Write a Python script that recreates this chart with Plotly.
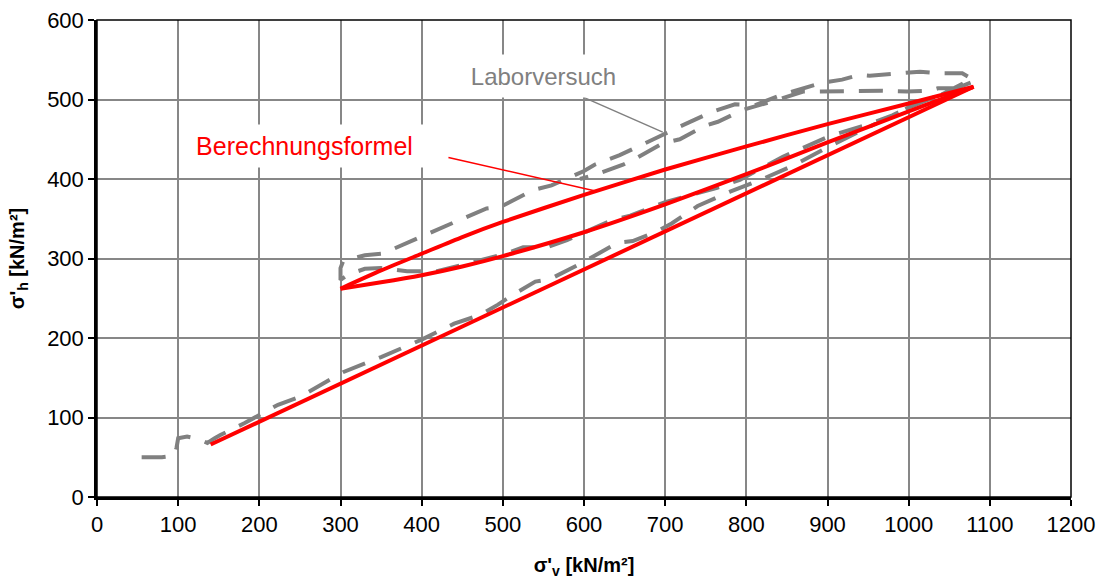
import plotly.graph_objects as go

# Berechnungsformel: Erstbelastung, Entlastung, Wiederbelastung
calc_load_x = [140, 1080]
calc_load_y = [66, 516]
calc_unload_x = [1080, 1000, 900, 800, 700, 600, 500, 450, 400, 350, 300]
calc_unload_y = [516, 495, 469, 441, 412, 380, 346, 327, 306, 285, 262]
calc_reload_x = [300, 350, 400, 450, 500, 600, 700, 800, 900, 1000, 1080]
calc_reload_y = [262, 270, 279, 290, 303, 333, 368, 406, 446, 485, 516]

# Laborversuch: Messpfad (Belastung -> Entlastung -> Wiederbelastung -> Entlastung)
lab_load_x = [55, 80, 95, 98, 100, 111, 125, 136, 145, 152, 182, 200, 223, 250, 275, 303,
              350, 400, 440, 472, 494, 509, 540, 558, 593, 610, 642, 660, 690, 708, 740,
              780, 820, 860, 900, 950, 1000, 1040, 1078]
lab_load_y = [50, 50, 52, 62, 74, 76, 73, 68, 74, 78, 93, 103, 116, 126, 140, 157,
              176, 198, 218, 229, 242, 252, 271, 274, 292, 302, 320, 322, 334, 344, 366,
              384, 400, 418, 440, 465, 490, 506, 526]
lab_unload1_x = [1066, 1036, 1014, 975, 952, 940, 918, 893, 858, 844, 811, 786, 759, 739,
                 714, 696, 663, 644, 613, 600, 560, 537, 497, 480, 439, 426, 382, 365, 350,
                 330, 315, 303, 300, 300]
lab_unload1_y = [533, 533, 535, 532, 530, 531, 525, 521, 510, 506, 493, 494, 485, 476,
                 464, 455, 439, 430, 418, 410, 392, 386, 365, 363, 345, 339, 320, 312, 306,
                 304, 300, 296, 288, 273]
lab_reload_x = [310, 330, 350, 382, 419, 450, 500, 525, 554, 579, 611, 634, 657, 700,
                764, 792, 845, 905, 945, 980, 1000, 1040, 1078]
lab_reload_y = [280, 287, 288, 284, 284, 292, 305, 314, 314, 323, 338, 348, 354, 371,
                389, 399, 428, 455, 467, 480, 490, 506, 522]
lab_unload2_x = [1067, 1036, 1026, 998, 967, 928, 903, 870, 840, 796, 765, 749, 718,
                 697, 666, 648, 613, 595]
lab_unload2_y = [514, 514, 511, 510, 511, 511, 510, 510, 500, 487, 472, 467, 450,
                 445, 427, 418, 405, 400]

x_ticks = list(range(0, 1201, 100))
y_ticks = list(range(0, 601, 100))

FONT = "Arial, Liberation Sans, sans-serif"
GRAY = "#808080"
RED = "#ff0000"

lab_x = lab_load_x + lab_unload1_x + lab_reload_x + lab_unload2_x
lab_y = lab_load_y + lab_unload1_y + lab_reload_y + lab_unload2_y

fig = go.Figure()
fig.add_trace(go.Scatter(
    x=lab_x, y=lab_y, mode="lines", name="Laborversuch",
    line=dict(color=GRAY, width=4, dash="24px,15px"),
))
for xs, ys in [(calc_load_x, calc_load_y),
               (calc_unload_x, calc_unload_y),
               (calc_reload_x, calc_reload_y)]:
    fig.add_trace(go.Scatter(
        x=xs, y=ys, mode="lines", name="Berechnungsformel",
        line=dict(color=RED, width=4, shape="spline", smoothing=0.6),
    ))

# Hinweislinien zu den Beschriftungen
fig.add_shape(type="line", x0=599, y0=503, x1=697, y1=459,
              line=dict(color=GRAY, width=1.5), layer="above")
fig.add_shape(type="line", x0=433, y0=427, x1=614, y1=385,
              line=dict(color=RED, width=1.5), layer="above")
# Rahmen des Diagrammbereichs
fig.add_shape(type="rect", xref="paper", yref="paper", x0=0, y0=0, x1=1, y1=1,
              line=dict(color="black", width=1.5), layer="above")

fig.add_annotation(x=550, y=530, text="Laborversuch", showarrow=False,
                   font=dict(family=FONT, size=24, color=GRAY),
                   bgcolor="white", width=175, height=42, borderpad=0)
fig.add_annotation(x=255.5, y=442, text="Berechnungsformel", showarrow=False,
                   font=dict(family=FONT, size=25, color=RED),
                   bgcolor="white", width=239, height=42, borderpad=0)

axis_common = dict(
    showgrid=True, gridcolor="#878787", gridwidth=1.5,
    zeroline=False, showline=True, linecolor="black", linewidth=2.5,
    ticks="outside", ticklen=6, tickwidth=2, tickcolor="black",
    tickfont=dict(family=FONT, size=22, color="black"),
    automargin=False,
)

fig.update_layout(
    width=1100, height=583,
    margin=dict(l=97, r=29, t=20, b=86),
    paper_bgcolor="white", plot_bgcolor="white",
    showlegend=False,
    font=dict(family=FONT, color="black"),
    xaxis=dict(range=[0, 1200], tickvals=x_ticks, ticktext=[str(v) for v in x_ticks],
               title=dict(text="<b>σ'<sub>v</sub> [kN/m²]</b>",
                          font=dict(family=FONT, size=20), standoff=22),
               **axis_common),
    yaxis=dict(range=[0, 600], tickvals=y_ticks, ticktext=[str(v) for v in y_ticks],
               title=dict(text="<b>σ'<sub>h</sub> [kN/m²]</b>",
                          font=dict(family=FONT, size=20), standoff=18),
               **axis_common),
)

fig.write_html("out.html")
